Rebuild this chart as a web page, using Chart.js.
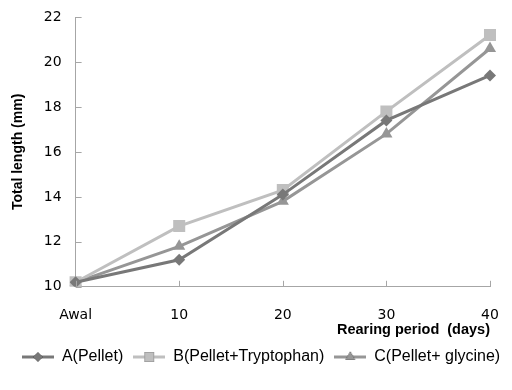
<!DOCTYPE html>
<html>
<head>
<meta charset="utf-8">
<script src="https://cdn.jsdelivr.net/npm/chart.js@4/dist/chart.umd.min.js"></script>
<style>
  body { margin: 0; background: #fff; }
  #wrap { width: 512px; height: 390px; }
</style>
</head>
<body>
<div id="wrap"><canvas id="lengthChart"></canvas></div>
<script>
// Total length vs rearing period
const periods = ['Awal', '10', '20', '30', '40'];
const pellet = [10.2, 11.2, 14.1, 17.4, 19.4];
const tryptophan = [10.2, 12.7, 14.3, 17.8, 21.2];
const glycine = [10.2, 11.8, 13.8, 16.8, 20.6];
const yTicks = [10, 12, 14, 16, 18, 20, 22];

const FONT = "'DejaVu Sans', sans-serif";
const SANS = "'Liberation Sans', Arial, sans-serif";
const axisGray = '#a6a6a6';

// legend symbol: short line with the marker in the middle
function legendIcon(color, style, r) {
    const c = document.createElement('canvas');
    c.width = 32; c.height = 16;
    const g = c.getContext('2d');
    g.strokeStyle = color;
    g.lineWidth = 3;
    g.beginPath();
    g.moveTo(0, 8); g.lineTo(32, 8);
    g.stroke();
    Chart.helpers.drawPoint(g, {pointStyle: style, radius: r, rotation: 0, borderWidth: 0}, 16, 8);
    g.fillStyle = color;
    g.fill();
    return c;
}

// small tick marks pointing into the plot
const innerTicks = {
    id: 'innerTicks',
    afterDatasetsDraw(chart) {
        const {ctx, scales: {x, y}} = chart;
        ctx.save();
        ctx.strokeStyle = axisGray;
        ctx.lineWidth = 1;
        ctx.beginPath();
        x.ticks.forEach((t, i) => {
            const px = Math.round(x.getPixelForTick(i)) + 0.5;
            ctx.moveTo(px, x.top); ctx.lineTo(px, x.top - 6);
        });
        y.ticks.forEach((t, i) => {
            const py = Math.round(y.getPixelForTick(i)) + 0.5;
            ctx.moveTo(y.right, py); ctx.lineTo(y.right + 6, py);
        });
        ctx.stroke();
        ctx.restore();
    }
};

const series = [
    {label: 'A(Pellet)', data: pellet, color: '#787878', style: 'rectRot', r: 6},
    {label: 'B(Pellet+Tryptophan)', data: tryptophan, color: '#bfbfbf', style: 'rect', r: 8.5},
    {label: 'C(Pellet+ glycine)', data: glycine, color: '#969696', style: 'triangle', r: 7}
];

const ctx = document.getElementById('lengthChart').getContext('2d');
const lengthChart = new Chart(ctx, {
    type: 'line',
    data: {
        labels: periods,
        datasets: series.map(s => ({
            label: s.label,
            data: s.data,
            borderColor: s.color,
            backgroundColor: s.color,
            borderWidth: 3,
            pointStyle: s.style,
            pointRadius: s.r,
            pointHoverRadius: s.r,
            pointBorderWidth: 0,
            tension: 0
        }))
    },
    options: {
        responsive: true,
        maintainAspectRatio: false,
        animation: false,
        layout: {padding: {top: 0, right: 0, left: 10, bottom: 15}},
        plugins: {
            tooltip: {enabled: false},
            legend: {
                position: 'bottom',
                labels: {
                    usePointStyle: true,
                    pointStyleWidth: 32,
                    color: '#000',
                    padding: 10,
                    font: {family: SANS, size: 16},
                    generateLabels(chart) {
                        return series.map((s, i) => ({
                            text: s.label,
                            datasetIndex: i,
                            pointStyle: legendIcon(s.color, s.style, s.r * 0.8),
                            fillStyle: s.color,
                            strokeStyle: s.color,
                            lineWidth: 0,
                            hidden: false
                        }));
                    }
                }
            }
        },
        scales: {
            x: {
                type: 'category',
                offset: false,
                grid: {display: false, drawTicks: false},
                border: {color: axisGray, width: 1},
                ticks: {color: '#000', padding: 20, maxRotation: 0, font: {family: FONT, size: 14}},
                afterFit(scale) { scale.paddingRight = 22; scale.paddingLeft = 0; },
                title: {
                    display: true,
                    text: 'Rearing period  (days)',
                    align: 'end',
                    color: '#000',
                    padding: {top: -22, bottom: 0},
                    font: {family: SANS, size: 14.5, weight: 'bold'}
                }
            },
            y: {
                min: 10,
                max: 22,
                afterBuildTicks(scale) { scale.ticks = yTicks.map(v => ({value: v})); },
                afterFit(scale) { scale.paddingTop = 17; scale.paddingBottom = 0; },
                grid: {display: false, drawTicks: false},
                border: {color: axisGray, width: 1},
                ticks: {color: '#000', padding: 14, font: {family: FONT, size: 14}},
                title: {
                    display: true,
                    text: 'Total length (mm)',
                    color: '#000',
                    padding: {top: 0, bottom: 3},
                    font: {family: SANS, size: 14, weight: 'bold'}
                }
            }
        }
    },
    plugins: [innerTicks]
});
</script>
</body>
</html>
